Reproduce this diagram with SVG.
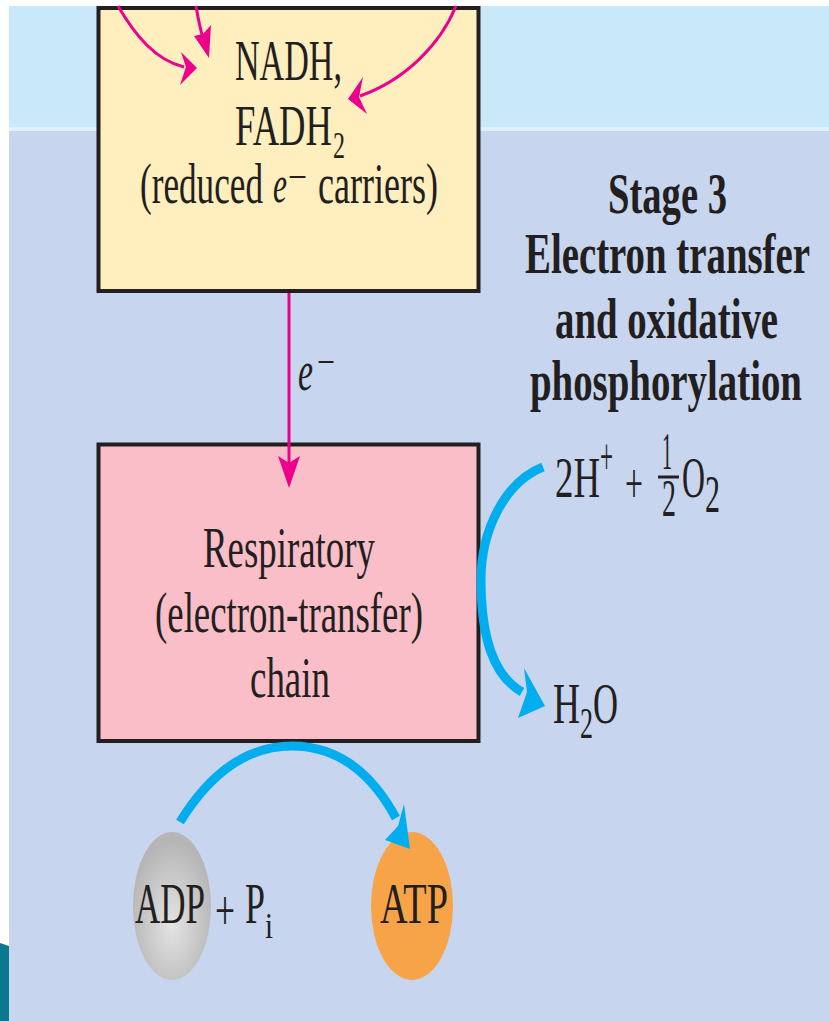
<svg xmlns="http://www.w3.org/2000/svg" width="829" height="1021" viewBox="0 0 829 1021">
<style>
.t{font-family:"Liberation Serif","DejaVu Serif",serif;fill:#231F20;font-size:58px}
.b{font-weight:bold}
.it{font-style:italic}
.box{stroke:#231F20;stroke-width:4}
.pink{fill:none;stroke:#EC008C;stroke-width:3}
.pinkh{fill:#EC008C}
.blue{fill:none;stroke:#00AEEF;stroke-width:9;stroke-linecap:butt}
.blueh{fill:#00AEEF}
</style>
<defs>
<radialGradient id="gray" cx="0.5" cy="0.62" r="0.55">
<stop offset="0" stop-color="#E4E4E4"/>
<stop offset="1" stop-color="#B6B6B6"/>
</radialGradient>
</defs>
<rect x="0" y="0" width="829" height="1021" fill="#FFFFFF"/>
<rect x="9" y="6" width="820" height="121" fill="#C9E9FB"/>
<rect x="9" y="127" width="820" height="4" fill="#DDF2FC"/>
<rect x="9" y="131" width="820" height="890" fill="#C7D5EE"/>
<polygon points="0,943 9,946 9,1021 0,1021" fill="#0B7890"/>

<g id="carriers">
<rect class="box" x="98.5" y="8" width="380" height="283" fill="#FFEEBE"/>
<text class="t" transform="translate(235,80) scale(0.6,1)" textLength="178.3" lengthAdjust="spacingAndGlyphs">NADH,</text>
<text class="t" transform="translate(235,145) scale(0.6,1)" textLength="161.7" lengthAdjust="spacingAndGlyphs">FADH</text>
<text class="t" transform="translate(333,158) scale(0.6,1)" style="font-size:38px" textLength="20" lengthAdjust="spacingAndGlyphs">2</text>
<text class="t" transform="translate(140,203) scale(0.6,1)" textLength="205" lengthAdjust="spacingAndGlyphs">(reduced</text>
<text class="t it" transform="translate(273,202) scale(0.6,1)" style="font-size:52px" textLength="23.3" lengthAdjust="spacingAndGlyphs">e</text>
<text class="t" transform="translate(288,190) scale(0.6,1)" style="font-size:40px" textLength="31.7" lengthAdjust="spacingAndGlyphs">−</text>
<text class="t" transform="translate(318,203) scale(0.6,1)" textLength="200" lengthAdjust="spacingAndGlyphs">carriers)</text>
</g>

<g id="chain">
<rect class="box" x="98.5" y="444.5" width="380" height="296.5" fill="#F9BEC7"/>
<text class="t" transform="translate(203,567) scale(0.6,1)" textLength="286.7" lengthAdjust="spacingAndGlyphs">Respiratory</text>
<text class="t" transform="translate(155,632) scale(0.6,1)" textLength="446.7" lengthAdjust="spacingAndGlyphs">(electron-transfer)</text>
<text class="t" transform="translate(250,697) scale(0.6,1)" textLength="133.3" lengthAdjust="spacingAndGlyphs">chain</text>
</g>

<g id="stage3">
<text class="t b" transform="translate(608,213) scale(0.6,1)" textLength="198.3" lengthAdjust="spacingAndGlyphs">Stage 3</text>
<text class="t b" transform="translate(525,273) scale(0.6,1)" textLength="475" lengthAdjust="spacingAndGlyphs">Electron transfer</text>
<text class="t b" transform="translate(555,338) scale(0.6,1)" textLength="371.7" lengthAdjust="spacingAndGlyphs">and oxidative</text>
<text class="t b" transform="translate(530,400) scale(0.6,1)" textLength="453.3" lengthAdjust="spacingAndGlyphs">phosphorylation</text>
</g>

<g id="reactants">
<text class="t" transform="translate(555,497) scale(0.6,1)" textLength="75" lengthAdjust="spacingAndGlyphs">2H</text>
<text class="t" transform="translate(600,474) scale(0.6,1)" style="font-size:52px" textLength="21.7" lengthAdjust="spacingAndGlyphs">+</text>
<text class="t" transform="translate(625,503) scale(0.6,1)" textLength="30" lengthAdjust="spacingAndGlyphs">+</text>
<text class="t" transform="translate(662,469) scale(0.6,1)" style="font-size:52px" textLength="16.7" lengthAdjust="spacingAndGlyphs">1</text>
<line x1="658" y1="477" x2="679" y2="477" stroke="#231F20" stroke-width="3"/>
<text class="t" transform="translate(662,516) scale(0.6,1)" style="font-size:52px" textLength="23.3" lengthAdjust="spacingAndGlyphs">2</text>
<text class="t" transform="translate(682,497) scale(0.6,1)" textLength="38.3" lengthAdjust="spacingAndGlyphs">O</text>
<text class="t" transform="translate(705,512) scale(0.6,1)" style="font-size:52px" textLength="25" lengthAdjust="spacingAndGlyphs">2</text>
</g>

<g id="water">
<text class="t" transform="translate(553,723) scale(0.6,1)" textLength="45" lengthAdjust="spacingAndGlyphs">H</text>
<text class="t" transform="translate(580,738) scale(0.6,1)" style="font-size:45px" textLength="21.7" lengthAdjust="spacingAndGlyphs">2</text>
<text class="t" transform="translate(593,723) scale(0.6,1)" textLength="41.7" lengthAdjust="spacingAndGlyphs">O</text>
</g>

<g id="adp">
<ellipse cx="172" cy="906" rx="39" ry="74" fill="url(#gray)"/>
<text class="t" transform="translate(135,923) scale(0.6,1)" textLength="116.7" lengthAdjust="spacingAndGlyphs">ADP</text>
<text class="t" transform="translate(215,930) scale(0.6,1)" textLength="33.3" lengthAdjust="spacingAndGlyphs">+</text>
<text class="t" transform="translate(245,923) scale(0.6,1)" textLength="33.3" lengthAdjust="spacingAndGlyphs">P</text>
<text class="t" transform="translate(265,938) scale(0.6,1)" style="font-size:36px" textLength="13.3" lengthAdjust="spacingAndGlyphs">i</text>
</g>

<g id="atp">
<ellipse cx="412" cy="906" rx="41" ry="74" fill="#F7A449"/>
<text class="t" transform="translate(380,923) scale(0.6,1)" textLength="113.3" lengthAdjust="spacingAndGlyphs">ATP</text>
</g>

<g id="connectors">
<path class="pink" d="M118,6 C135,35 155,60 184,67"/>
<polygon class="pinkh" points="197,68 181,52 186,67 180,85"/>
<path class="pink" d="M196,6 C198,18 200,28 203,38"/>
<polygon class="pinkh" points="209,58 211,25 203,34 194,36"/>
<path class="pink" d="M456,6 C440,45 405,80 360,96"/>
<polygon class="pinkh" points="348,99 363,77 359,97 367,114"/>
<line class="pink" x1="289" y1="293" x2="289" y2="468"/>
<polygon class="pinkh" points="289,488 278,456 289,463 300,456"/>
<text class="t it" transform="translate(298,390) scale(0.6,1)" textLength="25" lengthAdjust="spacingAndGlyphs">e</text>
<text class="t" transform="translate(317,375) scale(0.6,1)" style="font-size:40px" textLength="30" lengthAdjust="spacingAndGlyphs">−</text>
<path class="blue" d="M543,467 C505,482 481,530 481,580 C481,635 492,675 522,692"/>
<polygon class="blueh" points="545,706 524,668 527,692 518,718"/>
<path class="blue" d="M180,822 C215,765 255,746 292,746 C335,746 370,770 396,818"/>
<polygon class="blueh" points="410,849 404,804 398,826 385,840"/>
</g>
</svg>
